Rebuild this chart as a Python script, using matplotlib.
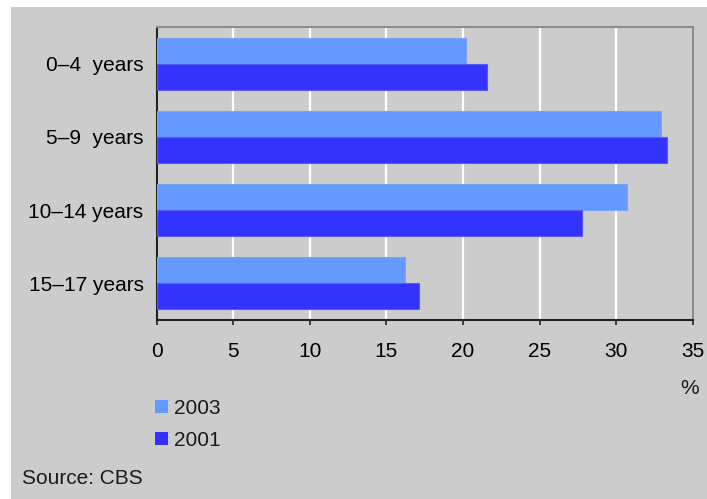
import numpy as np
import matplotlib
matplotlib.use("Agg")
import matplotlib.pyplot as plt
from matplotlib.patches import Patch, Rectangle

# Share of children per age group, %
age_groups = ["0–4  years", "5–9  years", "10–14 years", "15–17 years"]
share_2003 = [20.2, 32.9, 30.7, 16.2]
share_2001 = [21.6, 33.3, 27.8, 17.1]
x_ticks = [0, 5, 10, 15, 20, 25, 30, 35]

c_2003 = "#6699ff"
c_2001 = "#3333ff"
bg = "#cccccc"

plt.rcParams["font.family"] = ["Liberation Sans", "DejaVu Sans"]
plt.rcParams["font.size"] = 15
plt.rcParams["text.color"] = "#1a1a1a"

W, H = 707, 499
fig = plt.figure(figsize=(W / 100, H / 100), dpi=100, facecolor="white")

# grey panel behind everything, white strip top and left
fig.add_artist(Rectangle((11 / W, 0), 1 - 11 / W, 1 - 7 / H,
                         transform=fig.transFigure, facecolor=bg,
                         edgecolor="none", zorder=-10))

ax = fig.add_axes([156.7 / W, 1 - 320 / H, 536 / W, 293 / H])
ax.set_facecolor(bg)

y = np.arange(len(age_groups))
h = 0.355
ax.barh(y - h / 2, share_2003, height=h, color=c_2003,
        edgecolor="#7aa3f5", linewidth=0.8, zorder=3)
ax.barh(y + h / 2, share_2001, height=h, color=c_2001,
        edgecolor="#5a5af0", linewidth=0.8, zorder=3)

ax.set_xlim(0, 35)
ax.set_ylim(len(age_groups) - 0.5, -0.5)
ax.set_xticks(x_ticks)
ax.set_yticks(y)
ax.set_yticklabels(age_groups)

ax.grid(axis="x", color="white", linewidth=1.6, zorder=1)
ax.set_axisbelow(True)

ax.tick_params(axis="x", direction="out", length=3.5, width=1.2,
               color="#222222", pad=12.5, labelsize=15)
ax.tick_params(axis="y", length=0, pad=9.5, labelsize=15)

for side in ("left", "bottom"):
    ax.spines[side].set_color("#222222")
    ax.spines[side].set_linewidth(1.5)
for side in ("top", "right"):
    ax.spines[side].set_color("#8c8c8c")
    ax.spines[side].set_linewidth(1.5)

fig.text(690 / W, 1 - 388 / H, "%", ha="center", va="center", fontsize=15)

handles = [Patch(facecolor=c_2003, edgecolor="none", label="2003"),
           Patch(facecolor=c_2001, edgecolor="none", label="2001")]
fig.legend(handles=handles, loc="upper left",
           bbox_to_anchor=(155 / W, 1 - 399 / H), frameon=False,
           handlelength=0.62, handleheight=0.62, handletextpad=0.3,
           borderpad=0, borderaxespad=0, labelspacing=0.62, fontsize=15)

fig.text(22 / W, 1 - 479 / H, "Source: CBS", ha="left", va="center",
         fontsize=15)

fig.savefig("out.png", dpi=100, facecolor=fig.get_facecolor())
